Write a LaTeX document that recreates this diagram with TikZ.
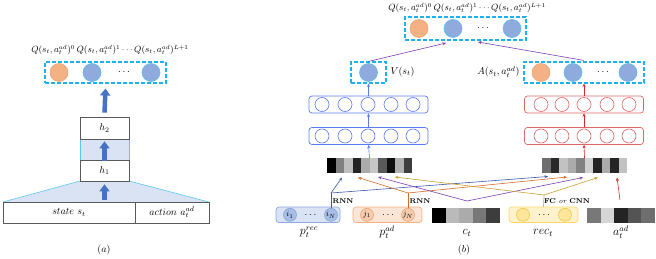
\documentclass[tikz,border=0pt]{standalone}
\usetikzlibrary{arrows.meta}
\definecolor{dashc}{HTML}{1FB0F0}
\definecolor{qof}{HTML}{F4B183}
\definecolor{qob}{HTML}{EAA070}
\definecolor{qbf}{HTML}{8FAADC}
\definecolor{qbb}{HTML}{5BC0F0}
\definecolor{layblue}{HTML}{5A7BF5}
\definecolor{layred}{HTML}{E06666}
\definecolor{fatblue}{HTML}{4472C4}
\definecolor{pastel}{HTML}{DAE3F3}
\definecolor{trapedge}{HTML}{5BC8F0}
\definecolor{lblue}{HTML}{3B5BA5}
\definecolor{lorange}{HTML}{D46B2A}
\definecolor{lpurple}{HTML}{7B3FB5}
\definecolor{lyellow}{HTML}{C9A030}
\definecolor{lred}{HTML}{D62828}
\definecolor{precf}{HTML}{DAE3F3}
\definecolor{precb}{HTML}{8FAADC}
\definecolor{precc}{HTML}{A9BEE6}
\definecolor{preccb}{HTML}{7F9FD8}
\definecolor{padf}{HTML}{FBE5D6}
\definecolor{padb}{HTML}{F4B183}
\definecolor{padc}{HTML}{F8CBAD}
\definecolor{padcb}{HTML}{E8A070}
\definecolor{recf}{HTML}{FFF2CC}
\definecolor{recb}{HTML}{FFD966}
\definecolor{recc}{HTML}{FFE699}
\definecolor{reccb}{HTML}{F0C040}
\definecolor{boxgray}{HTML}{595959}
\begin{document}
\begin{tikzpicture}[x=1pt,y=-1pt,
  dbox/.style={draw=dashc, dash pattern=on 4pt off 2pt, line width=1.1pt, inner sep=0pt},
  qo/.style={circle, fill=qof, draw=qob, line width=0.5pt, minimum size=18pt, inner sep=0pt},
  qb/.style={circle, fill=qbf, draw=qbb, line width=0.6pt, minimum size=18pt, inner sep=0pt},
  layB/.style={draw=layblue, rounded corners=3pt, line width=0.7pt, inner sep=0pt, minimum width=119pt, minimum height=17pt},
  layR/.style={draw=layred, rounded corners=3pt, line width=0.7pt, inner sep=0pt, minimum width=119pt, minimum height=17pt},
  cB/.style={circle, draw=layblue, minimum size=14pt, inner sep=0pt, line width=0.6pt},
  cR/.style={circle, draw=layred, minimum size=14pt, inner sep=0pt, line width=0.6pt},
  fat/.style={line width=4.5pt, draw=fatblue, -{Triangle[width=10pt,length=7pt]}},
  ar/.style={-{Stealth[length=3.5pt,width=3pt]}, line width=0.6pt},
  wbox/.style={draw=boxgray, fill=white, line width=0.7pt, inner sep=0pt},
  strip/.style={inner sep=0pt, minimum width=85pt, minimum height=15pt},
  small/.style={font=\fontsize{7}{8}\selectfont},
  big/.style={font=\large}
]
\useasboundingbox (0,0) rectangle (656,259);

%================ panel (a) ================
\node[font=\fontsize{9}{10}\selectfont] (qla) at (110,50) {$Q(s_t,a_t^{ad})^0\,Q(s_t,a_t^{ad})^1\cdots Q(s_t,a_t^{ad})^{L+1}$};
\node[dbox, minimum width=121pt, minimum height=21pt] (qa) at (105.5,72.5) {};
\node[qo] (qa0) at (59,72.5) {};
\node[qb] (qa1) at (92,72.5) {};
\node (qad) at (124,72.5) {$\cdots$};
\node[qb] (qa2) at (151,72.5) {};

% shaded parts
\fill[pastel] (80,139) rectangle (129,160);
\draw[trapedge, line width=0.5pt] (80,139) -- (80,160) (129,139) -- (129,160);
\fill[pastel] (80,181) -- (129,181) -- (209,202) -- (3,202) -- cycle;
\draw[trapedge, line width=0.6pt] (80,181) -- (3,202) (129,181) -- (209,202);

\node[wbox, minimum width=49pt, minimum height=22pt] (h2) at (104.5,128) {$h_2$};
\node[wbox, minimum width=49pt, minimum height=21pt] (h1) at (104.5,170.5) {$h_1$};
\node[wbox, minimum width=132pt, minimum height=21pt] (st) at (69,212.5) {$state\ s_t$};
\node[wbox, minimum width=74pt, minimum height=21pt] (ac) at (172,212.5) {$action\ a_t^{ad}$};

\draw[fat] ([yshift=-19pt]h1.south) -- ([yshift=-3pt]h1.south);
\draw[fat] ([yshift=-1pt]h1.north) -- ([yshift=-2pt]h2.south);
\draw[fat] ([yshift=4pt]h2.north) -- ([yshift=-5pt]qa.south);

\node (la) at (104,250) {$(a)$};

%================ panel (b) ================
\node[font=\fontsize{9}{10}\selectfont] (qlb) at (467,8) {$Q(s_t,a_t^{ad})^0\,Q(s_t,a_t^{ad})^1\cdots Q(s_t,a_t^{ad})^{L+1}$};
\node[dbox, minimum width=121pt, minimum height=23pt] (qb) at (465.5,28.5) {};
\node[qo] (qb0) at (419,28.5) {};
\node[qb] (qb1) at (453,28.5) {};
\node (qbd) at (483,28.5) {$\cdots$};
\node[qb] (qb2) at (512,28.5) {};

% V branch
\node[dbox, minimum width=35pt, minimum height=21pt] (vb) at (368.5,72.5) {};
\node[qb] (vc) at (368.5,72.5) {};
\node[anchor=west] (vl) at (387,72) {$V(s_t)$};

% A branch
\node[dbox, minimum width=120pt, minimum height=21pt] (ab) at (584,72.5) {};
\node[qo] (ac0) at (541,72.5) {};
\node[qb] (ac1) at (573,72.5) {};
\node (acd) at (603,72.5) {$\cdots$};
\node[qb] (ac2) at (628,72.5) {};
\node[anchor=east] (al) at (523,72) {$A(s_t,a_t^{ad})$};

\draw[lpurple, ar] (vb.north) -- (446,43);
\draw[lpurple, ar] ([yshift=1pt]ab.north) -- (478,42);

% blue layers
\node[layB] (b2) at (368.5,104.5) {};
\node[layB] (b1) at (368.5,136) {};
\foreach \x [count=\i] in {322,345,368,391,413}{
  \node[cB] (b2c\i) at (\x,104.5) {};
  \node[cB] (b1c\i) at (\x,136) {};
}
% red layers
\node[layR] (r2) at (584,104.5) {};
\node[layR] (r1) at (584,136) {};
\foreach \x [count=\i] in {541,562,584,607,629}{
  \node[cR] (r2c\i) at (\x,104.5) {};
  \node[cR] (r1c\i) at (\x,136) {};
}

% feature strips
\node[strip] (fl) at (369.5,165.5) {};
\foreach \v [count=\i from 0] in {100,50,25,86,33,22,65,94,31,76}{
  \fill[black!\v] (327+8.5*\i,158) rectangle (335.5+8.5*\i,173);
}
\node[strip] (fr) at (584.5,165.5) {};
\foreach \v [count=\i from 0] in {57,84,24,33,49,18,86,33,86,24}{
  \fill[black!\v] (542+8.5*\i,158) rectangle (550.5+8.5*\i,173);
}

\draw[layblue, ar] (fl.north) -- (b1.south);
\draw[layblue, ar] (b1.north) -- (b2.south);
\draw[layblue, ar] (b2.north) -- (vb.south);
\draw[lred, ar] (fr.north) -- (r1.south);
\draw[lred, ar] (r1.north) -- (r2.south);
\draw[lred, ar] (r2.north) -- (ab.south);

% bottom inputs
\node[draw=precb, fill=precf, rounded corners=3pt, line width=0.7pt, minimum width=64pt, minimum height=15.5pt, inner sep=0pt] (prec) at (308,214.8) {};
\node[circle, fill=precc, draw=preccb, line width=0.5pt, minimum size=13pt, inner sep=0pt, font=\footnotesize] (i1) at (290,214.8) {$i_1$};
\node (idots) at (310.5,214.8) {$\cdots$};
\node[circle, fill=precc, draw=preccb, line width=0.5pt, minimum size=13pt, inner sep=0pt, font=\footnotesize] (iN) at (331,214.8) {$i_N$};
\node[big] (lprec) at (309,232) {$p_t^{rec}$};

\node[draw=padb, fill=padf, rounded corners=3pt, line width=0.7pt, minimum width=69pt, minimum height=15.5pt, inner sep=0pt] (pad) at (387.5,214.8) {};
\node[circle, fill=padc, draw=padcb, line width=0.5pt, minimum size=13pt, inner sep=0pt, font=\footnotesize] (j1) at (367,214.8) {$j_1$};
\node (jdots) at (388,214.8) {$\cdots$};
\node[circle, fill=padc, draw=padcb, line width=0.5pt, minimum size=13pt, inner sep=0pt, font=\footnotesize] (jN) at (408,214.8) {$j_N$};
\node[big] (lpad) at (387,232) {$p_t^{ad}$};

\node[inner sep=0pt, minimum width=68pt, minimum height=15pt] (ct) at (466,215.5) {};
\foreach \v [count=\i from 0] in {100,27,33,53,76}{
  \fill[black!\v] (432+13.6*\i,208) rectangle (445.6+13.6*\i,223);
}
\node[big] (lct) at (467,233) {$c_t$};

\node[draw=recb, fill=recf, rounded corners=3pt, line width=0.7pt, minimum width=69pt, minimum height=15.5pt, inner sep=0pt] (rec) at (543.5,214.8) {};
\node[circle, fill=recc, draw=reccb, line width=0.5pt, minimum size=13pt, inner sep=0pt] (r1c) at (523,214.8) {};
\node (rdots) at (544,214.8) {$\cdots$};
\node[circle, fill=recc, draw=reccb, line width=0.5pt, minimum size=13pt, inner sep=0pt] (r2c) at (565,214.8) {};
\node[big] (lrec) at (543,233) {$rec_t$};

\node[inner sep=0pt, minimum width=68pt, minimum height=15pt] (at) at (621,215.5) {};
\foreach \v [count=\i from 0] in {53,16,86,67,57}{
  \fill[black!\v] (587+13.6*\i,208) rectangle (600.6+13.6*\i,223);
}
\node[big] (lat) at (621,232) {$a_t^{ad}$};

\node (lb) at (464,250) {$(b)$};

% connectors
\coordinate (jb) at (331,193);
\coordinate (jo) at (408,193);
\coordinate (jp) at (467,201);
\coordinate (jy) at (544,195);

\draw[lblue, line width=0.6pt] (iN.north) -- (jb);
\draw[lblue, ar] (jb) -- (342,177.5);
\draw[lblue, ar] (jb) -- (548,176.5);

\draw[lorange, line width=0.6pt] (jN.north) -- (jo);
\draw[lorange, ar] (jo) -- (358,177.5);
\draw[lorange, ar] (jo) -- (567,177);

\draw[lpurple, ar] (jp) -- (378,177);
\draw[lpurple, ar] (jp) -- (583,177.5);

\draw[lyellow, line width=0.6pt] (rec.north) -- (jy);
\draw[lyellow, ar] (jy) -- (395,177);
\draw[lyellow, ar] (jy) -- (598,177.5);

\draw[lred, ar] (620,200) -- (617,177.5);

\node[small, font=\fontsize{7}{8}\selectfont\bfseries] (rnn1) at (343,201) {RNN};
\node[small, font=\fontsize{7}{8}\selectfont\bfseries] (rnn2) at (420,201) {RNN};
\node[font=\fontsize{7}{8}\selectfont] (fc) at (567,201) {\textbf{FC} \textit{or} \textbf{CNN}};
\end{tikzpicture}
\end{document}
